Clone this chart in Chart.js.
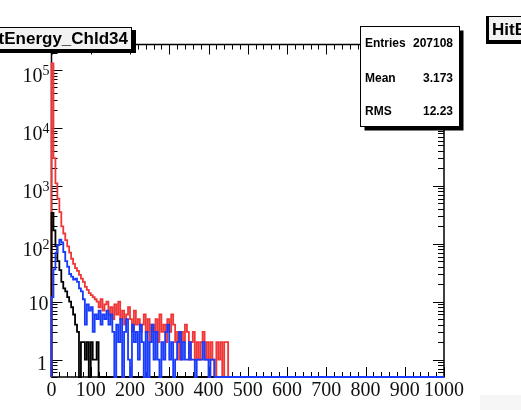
<!DOCTYPE html>
<html>
<head>
<meta charset="utf-8">
<script src="https://cdn.jsdelivr.net/npm/chart.js@4.4.1/dist/chart.umd.min.js"></script>
<style>
  html, body { margin: 0; padding: 0; background: #fff; }
  #wrap { width: 521px; height: 410px; }
</style>
</head>
<body>
<div id="wrap"><canvas id="c" width="521" height="410"></canvas></div>
<script>
// binning + axis ranges
const BIN_W = 5;
const X_MIN = 0, X_MAX = 1000;
const Y_MIN = 0.5, Y_MAX = 2.75e5;

const xTicks = [0, 100, 200, 300, 400, 500, 600, 700, 800, 900, 1000];
const yDecades = [1, 10, 100, 1000, 10000, 100000];

// counts per 5-wide bin, starting at 0 (zero = empty bin)
const redCounts = [
  130000, 3000, 1100, 600, 350, 200, 150, 115, 90, 70,
  55, 45, 38, 34, 29, 25, 22, 18, 16, 14,
  13, 12, 11, 10, 8, 11, 7, 9, 10, 6,
  8, 5, 9, 6, 10, 5, 7, 4, 6, 8,
  5, 3, 7, 4, 5, 3, 4, 6, 3, 5,
  2, 4, 3, 5, 2, 6, 3, 4, 2, 5,
  3, 6, 4, 2, 3, 1, 3, 2, 4, 3,
  1, 2, 3, 1, 2, 1, 2, 3, 1, 2,
  1, 2, 1, 0, 2, 1, 2, 0, 2, 2
];
const blueCounts = [
  12, 36, 70, 95, 117, 105, 72, 50, 40, 30,
  27, 24, 25, 22, 17, 15, 11, 4, 9, 7,
  8, 3, 6, 5, 7, 4, 6, 5, 7, 4,
  6, 3, 0, 4, 2, 5, 0, 3, 5, 1,
  0, 4, 2, 3, 1, 4, 2, 0, 3, 0,
  2, 4, 1, 3, 1, 0, 2, 1, 3, 4,
  1, 2, 0, 1, 2, 3, 1, 2, 1, 1,
  2, 1, 1, 0, 1, 1, 1, 2, 1, 1,
  0, 1, 1, 0
];
const blackCounts = [
  340, 170, 90, 50, 35, 22, 17, 15, 12, 10,
  8, 6, 4, 3, 0, 2, 2, 1, 2, 0,
  2, 1, 1, 2, 0
];

const titleText = "HitEnergy_Chld34";
const nextTitleText = "HitEnergy_Chld35";
const statsLabels = ["Entries", "Mean", "RMS"];
const statsValues = ["207108", "3.173", "12.23"];

// histogram outline: value holds over [edge, edge+BIN_W), empty bins sit on the frame bottom
function histPoints(counts) {
  const pts = [{ x: X_MIN, y: Y_MIN }];
  counts.forEach((c, i) => pts.push({ x: i * BIN_W, y: c > 0 ? c : Y_MIN }));
  pts.push({ x: counts.length * BIN_W, y: Y_MIN });
  pts.push({ x: X_MAX, y: Y_MIN });
  return pts;
}

const serif = "'Liberation Serif', 'Times New Roman', serif";
const sans = "'Liberation Sans', Arial, sans-serif";

// frame and inward ticks, drawn under the histograms
const framePlugin = {
  id: "frame",
  beforeDraw(chart) {
    const ctx = chart.ctx;
    ctx.save();
    ctx.fillStyle = "#fff";
    ctx.fillRect(0, 0, chart.width, chart.height);
    ctx.fillStyle = "#f6f6f6";
    ctx.fillRect(480, 395, 41, 15);
    ctx.restore();
  },
  beforeDatasetsDraw(chart) {
    const { ctx, chartArea: a, scales: { x, y } } = chart;
    ctx.save();
    ctx.strokeStyle = "#000";
    ctx.lineWidth = 1.5;
    ctx.strokeRect(a.left, a.top, a.right - a.left, a.bottom - a.top);

    ctx.lineWidth = 1;
    ctx.beginPath();
    for (let v = X_MIN; v <= X_MAX; v += 20) {
      const px = Math.round(x.getPixelForValue(v)) + 0.5;
      const len = v % 100 === 0 ? 10 : 5;
      ctx.moveTo(px, a.bottom); ctx.lineTo(px, a.bottom - len);
      ctx.moveTo(px, a.top); ctx.lineTo(px, a.top + len);
    }
    for (let d = 0.1; d <= Y_MAX; d *= 10) {
      for (let k = 1; k <= 9; k++) {
        const v = k * d;
        if (v < Y_MIN || v > Y_MAX) continue;
        const py = Math.round(y.getPixelForValue(v)) + 0.5;
        const len = k === 1 ? 11 : 6;
        ctx.moveTo(a.left, py); ctx.lineTo(a.left + len, py);
        ctx.moveTo(a.right, py); ctx.lineTo(a.right - len, py);
      }
    }
    ctx.stroke();
    ctx.restore();
  },
  afterDraw(chart) {
    const { ctx, scales: { x, y } } = chart;
    ctx.save();
    ctx.fillStyle = "#111";

    // x labels
    ctx.font = "20px " + serif;
    ctx.textAlign = "center";
    ctx.textBaseline = "alphabetic";
    xTicks.forEach(v => ctx.fillText(String(v), x.getPixelForValue(v), 396));

    // y labels, 10^n with raised exponent
    yDecades.forEach(v => {
      const py = y.getPixelForValue(v);
      const e = Math.round(Math.log10(v));
      ctx.textAlign = "right";
      if (e >= 2) {
        ctx.font = "14px " + serif;
        const ew = ctx.measureText(String(e)).width;
        ctx.fillText(String(e), 49.5, py + 5);
        ctx.font = "20px " + serif;
        ctx.fillText("10", 49.5 - ew, py + 12);
      } else {
        ctx.font = "20px " + serif;
        ctx.fillText(String(v), v === 1 ? 47 : 48.5, py + (v === 1 ? 10 : 8));
      }
    });

    // title box (left end runs off the canvas)
    ctx.fillStyle = "#000";
    ctx.fillRect(-10, 30, 146, 23);
    ctx.fillStyle = "#f2f2f2";
    ctx.fillRect(-10, 27, 142, 22);
    ctx.strokeStyle = "#000";
    ctx.lineWidth = 1;
    ctx.strokeRect(-10.5, 27.5, 142, 22);
    ctx.fillStyle = "#000";
    ctx.font = "bold 17px " + sans;
    ctx.textAlign = "right";
    ctx.fillText(titleText, 128, 44);

    // neighbour pad title, cut by the right edge
    ctx.fillStyle = "#000";
    ctx.fillRect(486, 16, 40, 28);
    ctx.fillStyle = "#f2f2f2";
    ctx.fillRect(489, 17, 40, 23);
    ctx.fillStyle = "#000";
    ctx.textAlign = "left";
    ctx.fillText(nextTitleText, 492, 35);

    // stats box
    const bx = 360.5, by = 26.5, bw = 99, bh = 100;
    ctx.fillStyle = "#000";
    ctx.fillRect(bx + 4, by + 4, bw, bh);
    ctx.fillStyle = "#fff";
    ctx.fillRect(bx, by, bw, bh);
    ctx.strokeRect(bx, by, bw, bh);
    ctx.fillStyle = "#000";
    ctx.font = "bold 12px " + sans;
    ctx.textBaseline = "middle";
    const rowY = [44, 78.5, 112];
    statsLabels.forEach((s, i) => {
      ctx.textAlign = "left";
      ctx.fillText(s, 365, rowY[i]);
      ctx.textAlign = "right";
      ctx.fillText(statsValues[i], 453, rowY[i]);
    });
    ctx.restore();
  }
};

const lineStyle = {
  pointRadius: 0,
  borderWidth: 1.8,
  fill: false,
  stepped: true,
  tension: 0,
  borderJoinStyle: "miter",
  clip: false
};

new Chart(document.getElementById("c"), {
  type: "line",
  data: {
    datasets: [
      { ...lineStyle, label: "blue", data: histPoints(blueCounts), borderColor: "rgb(25,60,250)", order: 0 },
      { ...lineStyle, label: "black", data: histPoints(blackCounts), borderColor: "#000", order: 1 },
      { ...lineStyle, label: "red", data: histPoints(redCounts), borderColor: "rgb(240,55,55)", order: 2 }
    ]
  },
  options: {
    responsive: false,
    animation: false,
    devicePixelRatio: 1,
    layout: { padding: { left: 51.5, right: 77, top: 44.5, bottom: 33 } },
    plugins: { legend: { display: false }, tooltip: { enabled: false } },
    scales: {
      x: { type: "linear", min: X_MIN, max: X_MAX, display: false },
      y: { type: "logarithmic", min: Y_MIN, max: Y_MAX, display: false }
    }
  },
  plugins: [framePlugin]
});
</script>
</body>
</html>
